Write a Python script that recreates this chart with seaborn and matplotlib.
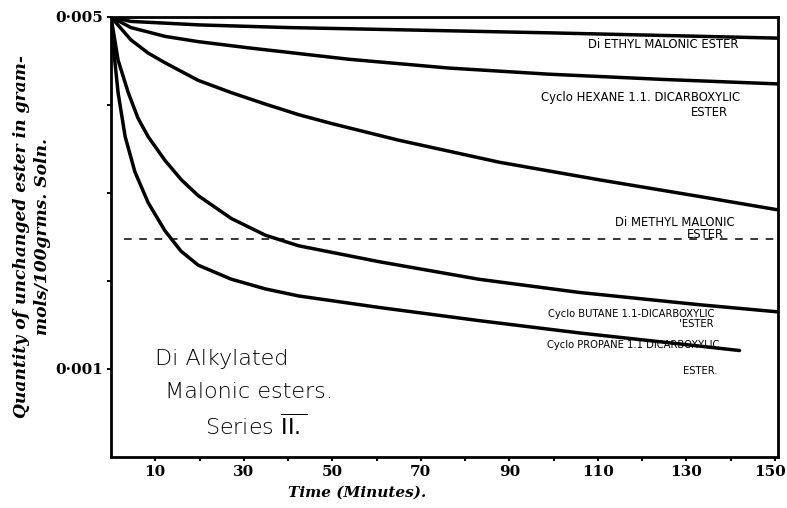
import numpy as np
import pandas as pd
import matplotlib
matplotlib.use("Agg")
import matplotlib.pyplot as plt
import matplotlib.transforms as mtransforms
import seaborn as sns
from matplotlib.ticker import FixedLocator, NullFormatter

# ---- data (time in minutes, quantity in units of 0.001 gram-mols/100 grms) ----
t_diethyl = [0, 4.5, 20, 40, 65, 99, 125, 150.5]
v_diethyl = [5.0, 4.95, 4.91, 4.88, 4.855, 4.82, 4.79, 4.76]

t_hexane = [0, 4.5, 12.2, 19.7, 31, 53.7, 76.3, 99, 125, 150.5]
v_hexane = [5.0, 4.88, 4.78, 4.72, 4.65, 4.52, 4.42, 4.35, 4.29, 4.24]

t_dimethyl = [0, 4.5, 8.4, 12.2, 19.7, 27.2, 34.9, 42.4, 49.8, 65, 87.7, 110.3, 133, 150.5]
v_dimethyl = [5.0, 4.74, 4.59, 4.48, 4.28, 4.14, 4.01, 3.89, 3.79, 3.60, 3.35, 3.15, 2.96, 2.81]

t_butane = [0, 1.6, 3.9, 6.1, 8.4, 12.2, 15.9, 19.7, 27.2, 34.9, 42.4, 60.5, 83.1, 105.8, 133, 150.5]
v_butane = [5.0, 4.51, 4.14, 3.85, 3.64, 3.37, 3.15, 2.97, 2.71, 2.52, 2.40, 2.22, 2.02, 1.87, 1.73, 1.65]

t_propane = [0, 0.45, 1.6, 3.2, 5.4, 8.4, 12.2, 15.8, 19.7, 27.2, 34.9, 42.4, 60.5, 83.1, 105.8, 133, 142]
v_propane = [5.0, 4.70, 4.14, 3.64, 3.24, 2.89, 2.57, 2.34, 2.18, 2.02, 1.91, 1.83, 1.70, 1.55, 1.41, 1.26, 1.21]

half_level = 2.48          # dashed reference line
half_span = [3, 150.5]

xtick_major = [10, 30, 50, 70, 90, 110, 130, 150]
xtick_minor = [20, 40, 60, 80, 100, 120, 140]
ytick_major = [1.0, 5.0]
ytick_labels = ["0·001", "0·005"]
ytick_minor = [2.0, 3.0, 4.0]

unit = 1e-3

series = [
    ("diethyl", t_diethyl, v_diethyl),
    ("hexane", t_hexane, v_hexane),
    ("dimethyl", t_dimethyl, v_dimethyl),
    ("butane", t_butane, v_butane),
    ("propane", t_propane, v_propane),
]
frames = [pd.DataFrame({"name": n, "t": t, "v": np.array(v) * unit}) for n, t, v in series]
df = pd.concat(frames, ignore_index=True)

sns.set_theme(style="white")
plt.rcParams['font.family'] = ['DejaVu Sans']

fig = plt.figure(figsize=(7.87, 5.08), dpi=100)
ax = fig.add_axes([111 / 787, 1 - 457 / 508, (778 - 111) / 787, (457 - 17) / 508])

for n, g in df.groupby("name", sort=False):
    sns.lineplot(data=g, x="t", y="v", ax=ax, color="black", lw=2.5,
                 sort=False, estimator=None, legend=False)

ax.hlines(half_level * unit, half_span[0], half_span[1], colors="black",
          linestyles=(0, (5, 5)), lw=1.1)

ax.set_xlim(0, 150.7)
ax.set_ylim(0, 5.0 * unit)

for s in ax.spines.values():
    s.set_linewidth(2.0)
    s.set_color("black")

ax.xaxis.set_major_locator(FixedLocator(xtick_major))
ax.xaxis.set_minor_locator(FixedLocator(xtick_minor))
ax.yaxis.set_major_locator(FixedLocator([y * unit for y in ytick_major]))
ax.yaxis.set_minor_locator(FixedLocator([y * unit for y in ytick_minor]))
ax.set_yticklabels(ytick_labels)
ax.set_xticklabels([str(x) for x in xtick_major])
ax.xaxis.set_minor_formatter(NullFormatter())
ax.yaxis.set_minor_formatter(NullFormatter())
ax.tick_params(which="both", bottom=True, left=True, direction="out",
               length=3, width=1.4, color="black", pad=3)
for lab in ax.get_xticklabels() + ax.get_yticklabels():
    lab.set_fontfamily("DejaVu Serif")
    lab.set_fontweight("bold")
    lab.set_fontsize(11)
    lab.set_color("black")
# keep the last x tick label inside the picture, as in the reference
last = ax.get_xticklabels()[-1]
last.set_transform(last.get_transform() +
                   mtransforms.ScaledTranslation(-5 / 100, 0, fig.dpi_scale_trans))

ax.set_xlabel("Time (Minutes).", family="DejaVu Serif", style="italic",
              weight="bold", fontsize=11, color="black")
ax.xaxis.set_label_coords(0.369, -0.065)
ax.set_ylabel("Quantity of unchanged ester in gram-\nmols/100grms. Soln.",
              family="DejaVu Serif", style="italic", weight="bold",
              fontsize=12.3, color="black", linespacing=1.3)
ax.yaxis.set_label_coords(-0.09, 0.5)

small = dict(fontsize=8.4, color="black", ha="center", va="center")
ax.text(124.8, 4.69 * unit, "Di ETHYL MALONIC ESTER", **small)
ax.text(119.6, 4.09 * unit, "Cyclo HEXANE 1.1. DICARBOXYLIC", **small)
ax.text(135.3, 3.91 * unit, "ESTER", **small)
ax.text(127.3, 2.67 * unit, "Di METHYL MALONIC", **small)
ax.text(134.3, 2.53 * unit, "ESTER", **small)
tiny = dict(fontsize=7.2, color="black", ha="center", va="center")
ax.text(117.6, 1.62 * unit, "Cyclo BUTANE 1.1-DICARBOXYLIC", **tiny)
ax.text(132.3, 1.51 * unit, "'ESTER", **tiny)
ax.text(118.0, 1.27 * unit, "Cyclo PROPANE 1.1 DICARBOXYLIC", **tiny)
ax.text(133.2, 0.975 * unit, "ESTER.", **tiny)

big = dict(fontsize=16, color="black", ha="left", va="center", weight="light")
ax.text(10.0, 1.11 * unit, "Di Alkylated", **big)
ax.text(12.2, 0.74 * unit, "Malonic esters.", **big)
ax.text(21.3, 0.35 * unit, r"Series $\overline{\mathrm{II.}}$", **big)

fig.savefig("out.png", dpi=100, facecolor="white")
